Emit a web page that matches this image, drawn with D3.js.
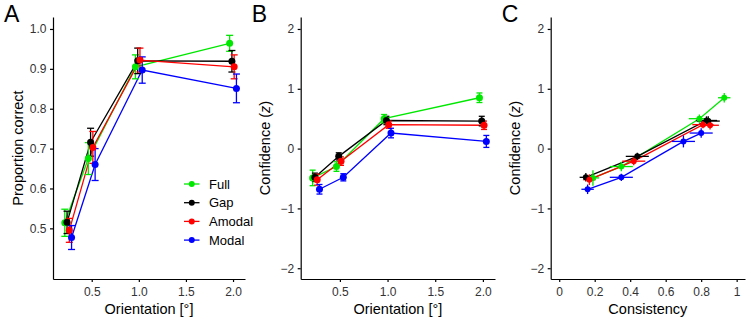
<!DOCTYPE html>
<html>
<head>
<meta charset="utf-8">
<script src="https://cdn.jsdelivr.net/npm/d3@7"></script>
<style>
  body { margin: 0; background: #fff; }
  svg { font-family: "Liberation Sans", Arial, Helvetica, sans-serif; }
  .axis path, .axis line { stroke: #000; stroke-width: 1.2px; }
  .axis text { fill: #333; font-size: 12px; }
</style>
</head>
<body>
<svg width="750" height="322"></svg>
<script>
// rows follow conditions order
var conditions = ["Full", "Gap", "Amodal", "Modal"];
var orientations = [0.25, 0.5, 1, 2];

var correct = [
  [0.514, 0.675, 0.905, 0.964],
  [0.515, 0.716, 0.920, 0.919],
  [0.495, 0.703, 0.922, 0.905],
  [0.477, 0.660, 0.897, 0.851]
];
var correctErr = [
  [0.034, 0.040, 0.030, 0.020],
  [0.028, 0.035, 0.032, 0.027],
  [0.030, 0.040, 0.030, 0.030],
  [0.030, 0.040, 0.033, 0.036]
];
var confidence = [
  [-0.49, -0.30, 0.50, 0.85],
  [-0.48, -0.13, 0.47, 0.46],
  [-0.52, -0.21, 0.40, 0.39],
  [-0.68, -0.48, 0.26, 0.12]
];
var confidenceErr = [
  [0.13, 0.08, 0.07, 0.08],
  [0.07, 0.06, 0.07, 0.08],
  [0.09, 0.07, 0.06, 0.07],
  [0.08, 0.06, 0.08, 0.10]
];
var consistency = [
  [0.19, 0.35, 0.79, 0.93],
  [0.15, 0.44, 0.83, 0.84],
  [0.17, 0.42, 0.81, 0.85],
  [0.16, 0.35, 0.80, 0.70]
];
var consistencyErr = [
  [0.035, 0.065, 0.06, 0.035],
  [0.035, 0.065, 0.06, 0.065],
  [0.035, 0.065, 0.06, 0.05],
  [0.035, 0.065, 0.065, 0.065]
];

var orientTicks = [0.5, 1.0, 1.5, 2.0],
    correctTicks = [0.5, 0.6, 0.7, 0.8, 0.9, 1.0],
    confTicks = [-2, -1, 0, 1, 2],
    consTicks = [0, 0.2, 0.4, 0.6, 0.8, 1];

var colors = ["#00e800", "#000000", "#ff0000", "#0000ff"];

var svg = d3.select("svg"),
    plotTop = 17, plotBottom = 279;

function points(i, xs, ys, xe, ye, dodge) {
  return orientations.map(function(o, j) {
    return {x: xs[i][j] + dodge, y: ys[i][j], xe: xe ? xe[i][j] : 0, ye: ye[i][j], c: colors[i]};
  });
}

function panel(p) {
  var x = d3.scaleLinear().domain(p.xDomain).range([p.left, p.right]),
      y = d3.scaleLinear().domain(p.yDomain).range([plotBottom, plotTop]);

  svg.append("g")
      .attr("class", "axis")
      .attr("transform", "translate(0," + plotBottom + ")")
      .call(d3.axisBottom(x).tickValues(p.xTicks).tickFormat(p.xFormat)
            .tickSize(3).tickSizeOuter(0).tickPadding(5));

  svg.append("g")
      .attr("class", "axis")
      .attr("transform", "translate(" + p.left + ",0)")
      .call(d3.axisLeft(y).tickValues(p.yTicks).tickFormat(p.yFormat)
            .tickSize(3).tickSizeOuter(0).tickPadding(3.5));

  var line = d3.line()
      .x(function(d) { return x(d.x); })
      .y(function(d) { return y(d.y); });

  var series = conditions.map(function(c, i) {
    var pts = points(i, p.xs, p.ys, p.xe, p.ye, p.dodge ? (i - 1.5) * 0.024 : 0);
    return pts.slice().sort(function(a, b) { return a.x - b.x; });
  });

  series.forEach(function(pts, i) {
    svg.append("path")
        .datum(pts)
        .attr("d", line)
        .style("fill", "none")
        .style("stroke", colors[i])
        .style("stroke-width", "1.3px");
  });

  series.forEach(function(pts) {
    var g = svg.append("g");
    g.selectAll(".ev").data(pts).enter().append("line")
        .attr("x1", function(d) { return x(d.x); })
        .attr("x2", function(d) { return x(d.x); })
        .attr("y1", function(d) { return y(d.y - d.ye); })
        .attr("y2", function(d) { return y(d.y + d.ye); })
        .style("stroke", function(d) { return d.c; })
        .style("stroke-width", "1.3px");
    if (p.cap) {
      [-1, 1].forEach(function(s) {
        g.selectAll(".cap").data(pts).enter().append("line")
            .attr("x1", function(d) { return x(d.x) - p.cap; })
            .attr("x2", function(d) { return x(d.x) + p.cap; })
            .attr("y1", function(d) { return y(d.y + s * d.ye); })
            .attr("y2", function(d) { return y(d.y + s * d.ye); })
            .style("stroke", function(d) { return d.c; })
            .style("stroke-width", "1.3px");
      });
    }
    if (p.xe) {
      g.selectAll(".eh").data(pts).enter().append("line")
          .attr("x1", function(d) { return x(d.x - d.xe); })
          .attr("x2", function(d) { return x(d.x + d.xe); })
          .attr("y1", function(d) { return y(d.y); })
          .attr("y2", function(d) { return y(d.y); })
          .style("stroke", function(d) { return d.c; })
          .style("stroke-width", "1.3px");
    }
  });

  series.forEach(function(pts) {
    svg.append("g").selectAll("circle").data(pts).enter().append("circle")
        .attr("cx", function(d) { return x(d.x); })
        .attr("cy", function(d) { return y(d.y); })
        .attr("r", p.r)
        .style("fill", function(d) { return d.c; });
  });

  svg.append("text")
      .attr("x", p.left - 49)
      .attr("y", 22)
      .style("font-size", "23px")
      .text(p.letter);

  svg.append("text")
      .attr("x", (p.left + p.right) / 2)
      .attr("y", 314)
      .attr("text-anchor", "middle")
      .style("font-size", "14.5px")
      .text(p.xTitle);

  var yt = svg.append("text")
      .attr("transform", "translate(" + (p.left - 30.5) + "," + ((plotTop + plotBottom) / 2) + ") rotate(-90)")
      .attr("text-anchor", "middle")
      .style("font-size", "14.5px");
  p.yTitle.forEach(function(t) {
    yt.append("tspan").style("font-style", t[1] ? "italic" : "normal").text(t[0]);
  });
  return {x: x, y: y};
}

var fmt1 = d3.format(".1f");

panel({
  letter: "A", left: 53, right: 245,
  xDomain: [0.089, 2.127], yDomain: [0.373, 1.030],
  xTicks: orientTicks, yTicks: correctTicks, xFormat: fmt1, yFormat: fmt1,
  xs: [orientations, orientations, orientations, orientations],
  ys: correct, ye: correctErr, dodge: true, cap: 3.5, r: 3.5,
  xTitle: "Orientation [°]", yTitle: [["Proportion correct"]]
});

panel({
  letter: "B", left: 300.7, right: 495,
  xDomain: [0.089, 2.127], yDomain: [-2.18, 2.2],
  xTicks: orientTicks, yTicks: confTicks, xFormat: fmt1, yFormat: d3.format("d"),
  xs: [orientations, orientations, orientations, orientations],
  ys: confidence, ye: confidenceErr, dodge: true, cap: 3, r: 3.5,
  xTitle: "Orientation [°]", yTitle: [["Confidence ("], ["z", true], [")"]]
});

panel({
  letter: "C", left: 550.7, right: 745,
  xDomain: [-0.048, 1.047], yDomain: [-2.18, 2.2],
  xTicks: consTicks, yTicks: confTicks, xFormat: d3.format("~g"), yFormat: d3.format("d"),
  xs: consistency, xe: consistencyErr,
  ys: confidence, ye: confidenceErr, dodge: false, cap: 0, r: 3,
  xTitle: "Consistency", yTitle: [["Confidence ("], ["z", true], [")"]]
});

// legend inside panel A
var legend = svg.append("g").selectAll("g")
    .data(conditions)
  .enter().append("g")
    .attr("transform", function(d, i) { return "translate(184," + (184 + i * 18.7) + ")"; });

legend.append("line")
    .attr("x1", 0).attr("x2", 15.5)
    .style("stroke", function(d, i) { return colors[i]; })
    .style("stroke-width", "1.3px");
legend.append("circle")
    .attr("cx", 7.75).attr("r", 3)
    .style("fill", function(d, i) { return colors[i]; });
legend.append("text")
    .attr("x", 25)
    .attr("dy", "0.36em")
    .style("font-size", "13px")
    .text(function(d) { return d; });
</script>
</body>
</html>
